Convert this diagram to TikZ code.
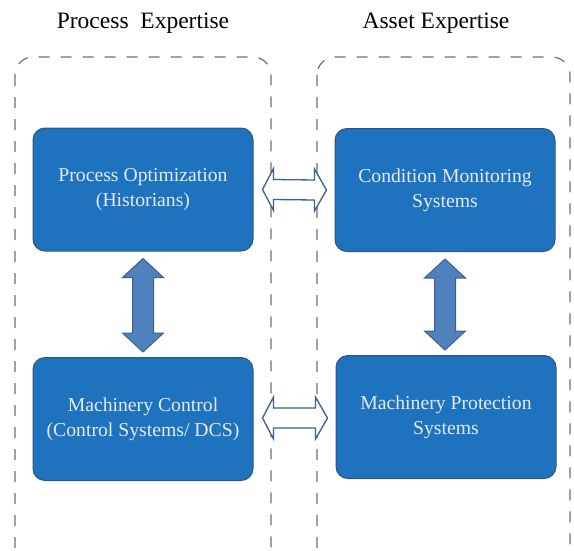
\documentclass[tikz,border=0pt]{standalone}
\usepackage{fontspec}
\setmainfont{Liberation Serif}
\usetikzlibrary{calc}

\definecolor{boxblue}{RGB}{31,115,190}
\definecolor{boxedge}{RGB}{45,85,130}
\definecolor{arrowblue}{RGB}{79,129,189}
\definecolor{arrowedge}{RGB}{60,95,145}
\definecolor{dashgray}{RGB}{110,110,110}
\definecolor{boxtext}{RGB}{225,235,247}

\tikzset{
    expertbox/.style = {draw = boxedge, line width = 1pt, fill = boxblue,
        rounded corners = 12pt, minimum width = 220pt, minimum height = 123pt,
        text = boxtext, align = center, font = \fontsize{19.7}{25}\selectfont},
    groupbox/.style = {draw = dashgray, line width = 1.2pt, dash pattern = on 11pt off 11pt,
        rounded corners = 18pt},
    titletext/.style = {font = \fontsize{23.5}{26}\selectfont},
    fatarrow/.style = {draw = arrowedge, line width = 1pt, fill = arrowblue},
    hollowarrow/.style = {draw = arrowedge, line width = 1.3pt, fill = white}
}

\begin{document}
\begin{tikzpicture}[x = 1pt, y = -1pt]
    \useasboundingbox (0, 0) rectangle (574, 550);

    % dashed groups and their titles
    \draw[groupbox] (15, 57) rectangle (271, 565);
    \draw[groupbox] (317, 57) rectangle (570, 565);
    \node[titletext] (proctitle) at (143, 23) {Process\ \ Expertise};
    \node[titletext] (assettitle) at (436, 23) {Asset Expertise};

    % the four blocks
    \node[expertbox] (procopt) at (143, 189.5) {Process Optimization\\(Historians)};
    \node[expertbox] (condmon) at (445, 190) {Condition Monitoring\\Systems};
    \node[expertbox] (machctrl) at (143, 419) {Machinery Control\\(Control Systems/ DCS)};
    \node[expertbox] (machprot) at (446, 417) {Machinery Protection\\Systems};

    % vertical arrows
    \coordinate (lt) at ($(procopt.south) + (0, 7)$);
    \coordinate (lb) at ($(machctrl.north) + (0, -5)$);
    \draw[fatarrow] (lt) -- ++(20.5, 19) -- ++(-10, 0) -- ($(lb) + (10.5, -19)$)
        -- ++(10, 0) -- (lb) -- ++(-20.5, -19) -- ++(10, 0)
        -- ($(lt) + (-10.5, 19)$) -- ++(-10, 0) -- cycle;

    \coordinate (rt) at ($(condmon.south) + (0, 7)$);
    \coordinate (rb) at ($(machprot.north) + (-1, -5)$);
    \draw[fatarrow] (rt) -- ++(20.5, 19) -- ++(-10, 0) -- ($(rb) + (10.5, -19)$)
        -- ++(10, 0) -- (rb) -- ++(-20.5, -19) -- ++(10, 0)
        -- ($(rt) + (-10.5, 19)$) -- ++(-10, 0) -- cycle;

    % horizontal arrows
    \coordinate (tl) at ($(procopt.east) + (9, 0)$);
    \coordinate (tr) at ($(condmon.west) + (-8, 0)$);
    \draw[hollowarrow] (tl) -- ++(11, -21) -- ++(0, 11) -- ($(tr) + (-12, -10)$)
        -- ++(0, -11) -- (tr) -- ++(-12, 21) -- ++(0, -11)
        -- ($(tl) + (11, 10)$) -- ++(0, 11) -- cycle;

    \coordinate (bl) at ($(machctrl.east) + (9, -1)$);
    \coordinate (br) at ($(machprot.west) + (-8, 1)$);
    \draw[hollowarrow] (bl) -- ++(11, -21) -- ++(0, 11) -- ($(br) + (-12, -10)$)
        -- ++(0, -11) -- (br) -- ++(-12, 21) -- ++(0, -11)
        -- ($(bl) + (11, 10)$) -- ++(0, 11) -- cycle;
\end{tikzpicture}
\end{document}
